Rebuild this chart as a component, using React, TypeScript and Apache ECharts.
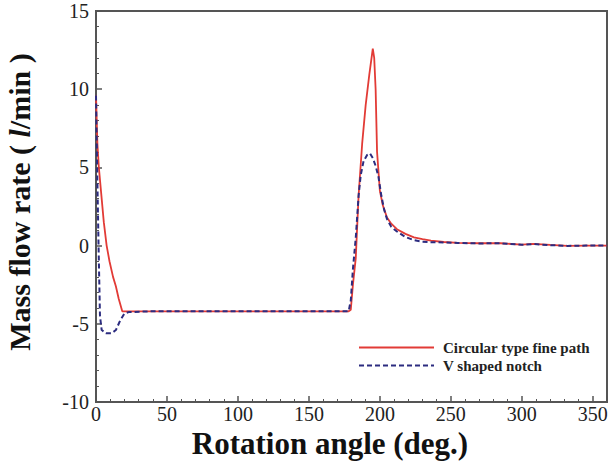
import React, { useEffect, useRef } from "react";
import * as echarts from "echarts";

// Rotation angle (deg.) and mass flow rate (l/min) for each geometry
const circularAngle = [
  0, 0.5, 1, 2, 3.5, 5.5, 7.5, 9.5, 12, 14, 16, 18.5, 40, 80, 120, 160, 178,
  179.5, 181, 183, 185, 187.5, 190, 192.5, 195, 196, 197, 198, 200, 202, 205,
  208, 212, 218, 224, 230, 236, 245, 255, 270, 285, 300, 308, 320, 332, 345, 360,
];
const circularFlow = [
  9.6, 8.0, 6.5, 5.0, 3.5, 1.5, 0.0, -1.0, -2.0, -2.6, -3.4, -4.2, -4.2, -4.2,
  -4.2, -4.2, -4.2, -4.1, -2.5, -0.8, 3.2, 6.5, 9.0, 10.9, 12.6, 12.0, 10.0, 6.0,
  3.5, 2.6, 1.8, 1.4, 1.05, 0.75, 0.53, 0.42, 0.32, 0.23, 0.18, 0.15, 0.15, 0.06,
  0.11, 0.04, -0.02, 0.0, 0.0,
];

const notchAngle = [
  0, 0.8, 1.8, 2.8, 4, 7, 11, 14, 17, 20, 23, 40, 80, 120, 160, 178, 179.5, 181,
  183, 185, 186.5, 188.5, 191, 193, 195, 197, 199, 201, 203, 205, 208, 212, 218,
  224, 230, 236, 245, 255, 270, 285, 300, 308, 320, 332, 345, 360,
];
const notchFlow = [
  9.6, 5.0, 0.0, -4.5, -5.4, -5.6, -5.6, -5.4, -4.8, -4.35, -4.25, -4.2, -4.2,
  -4.2, -4.2, -4.2, -3.5, -1.5, 0.5, 3.2, 4.5, 5.4, 5.8, 5.9, 5.6, 5.1, 4.4, 3.2,
  2.3, 1.7, 1.2, 0.9, 0.55, 0.35, 0.25, 0.22, 0.2, 0.17, 0.14, 0.15, 0.05, 0.1,
  0.03, -0.02, 0.0, 0.0,
];

const seriesNames = ["Circular type fine path", "V shaped notch"];

const SERIF = "Liberation Serif";

const pairs = (xs: number[], ys: number[]) => xs.map((x, i) => [x, ys[i]]);

export default function App() {
  const ref = useRef<HTMLDivElement>(null);

  useEffect(() => {
    if (!ref.current) return;
    const chart = echarts.init(ref.current, undefined, { renderer: "svg" });
    const axisColor = "#555";
    const labelStyle = { color: "#222", fontFamily: SERIF, fontSize: 20 };
    chart.setOption({
      animation: false,
      backgroundColor: "#fff",
      grid: {
        left: 96,
        right: 9,
        top: 11,
        bottom: 60,
        show: true,
        borderColor: axisColor,
        borderWidth: 2,
      },
      xAxis: {
        type: "value",
        min: 0,
        max: 360,
        interval: 50,
        axisLine: { onZero: false, lineStyle: { color: axisColor, width: 2 } },
        axisTick: { inside: true, length: 6, lineStyle: { color: axisColor, width: 1.5 } },
        minorTick: { show: true, splitNumber: 5, length: 3, lineStyle: { color: axisColor } },
        splitLine: { show: false },
        axisLabel: { ...labelStyle, margin: 2, showMaxLabel: false },
      },
      yAxis: {
        type: "value",
        min: -10,
        max: 15,
        interval: 5,
        axisLine: { onZero: false, lineStyle: { color: axisColor, width: 2 } },
        axisTick: { inside: true, length: 6, lineStyle: { color: axisColor, width: 1.5 } },
        minorTick: { show: true, splitNumber: 5, length: 3, lineStyle: { color: axisColor } },
        splitLine: { show: false },
        axisLabel: { ...labelStyle, margin: 7 },
      },
      legend: {
        orient: "vertical",
        left: 353,
        top: 335,
        itemWidth: 75,
        itemHeight: 14,
        itemGap: 3,
        itemStyle: { opacity: 0 },
        textStyle: {
          fontFamily: SERIF,
          fontWeight: "bold",
          fontSize: 15,
          color: "#222",
          padding: [0, 0, 0, 4],
        },
        data: seriesNames,
      },
      series: [
        {
          name: seriesNames[0],
          type: "line",
          symbol: "none",
          data: pairs(circularAngle, circularFlow),
          lineStyle: { color: "#e23b36", width: 1.8 },
          itemStyle: { color: "#e23b36" },
          z: 2,
        },
        {
          name: seriesNames[1],
          type: "line",
          symbol: "none",
          data: pairs(notchAngle, notchFlow),
          lineStyle: { color: "#2c2c80", width: 2, type: [5, 3] },
          itemStyle: { color: "#2c2c80" },
          z: 3,
        },
      ],
      graphic: [
        {
          type: "text",
          x: 330,
          y: 443,
          style: {
            text: "Rotation angle (deg.)",
            fontFamily: SERIF,
            fontWeight: "bold",
            fontSize: 31,
            fill: "#111",
            align: "center",
            verticalAlign: "middle",
          },
        },
        {
          type: "text",
          x: 19,
          y: 202,
          rotation: Math.PI / 2,
          style: {
            text: "{b|Mass flow rate ( }{i|l}{b|/min )}",
            align: "center",
            verticalAlign: "middle",
            rich: {
              b: { fontFamily: SERIF, fontWeight: "bold", fontSize: 30, fill: "#111" },
              i: {
                fontFamily: SERIF,
                fontWeight: "bold",
                fontStyle: "italic",
                fontSize: 30,
                fill: "#111",
              },
            },
          },
        },
      ],
    });
    return () => chart.dispose();
  }, []);

  return (
    <div
      ref={ref}
      style={{ position: "fixed", left: 0, top: 0, width: 616, height: 462 }}
    />
  );
}
